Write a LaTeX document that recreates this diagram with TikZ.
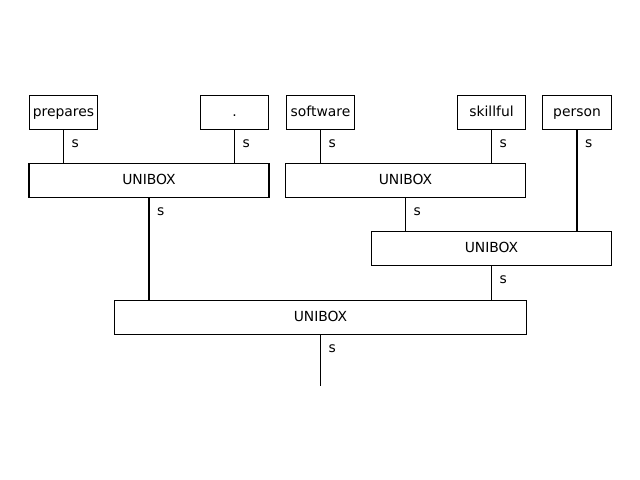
\documentclass[tikz,border=0pt]{standalone}
\usepackage{fontspec}
\setmainfont{DejaVu Sans}
\begin{document}
\begin{tikzpicture}[x=0.72pt,y=-0.72pt,
  box/.style={draw=black,line width=0.8pt,fill=white,inner sep=0pt,
              minimum height=24.48pt,text height=7.6pt,text depth=2.4pt,
              font=\fontsize{10pt}{12pt}\selectfont},
  leaf/.style={box,minimum width=49.37pt},
  unibox/.style={box,minimum width=172.8pt},
  widebox/.style={box,minimum width=296.23pt},
  link/.style={draw=black,line width=0.8pt},
  lbl/.style={anchor=west,inner sep=0pt,xshift=5.4pt,yshift=-9.86pt,
              font=\fontsize{10pt}{12pt}\selectfont}]
  \useasboundingbox (0,0) rectangle (640,480);

  % word leaves
  \node[leaf] (prepares) at (63.5,112.5) {prepares};
  \node[leaf] (dot)      at (234.5,112.5) {.};
  \node[leaf] (software) at (320.5,112.5) {software};
  \node[leaf] (skillful) at (491.5,112.5) {skillful};
  \node[leaf] (person)   at (577.0,112.5) {person};

  % combining boxes
  \node[unibox]  (u1) at (149.0,180.5) {UNIBOX};
  \node[unibox]  (u2) at (405.5,180.5) {UNIBOX};
  \node[unibox]  (u3) at (491.5,248.5) {UNIBOX};
  \node[widebox] (u4) at (320.5,317.5) {UNIBOX};
  \coordinate (root) at (320.5,385.7);

  % connectors with their labels
  \draw[link] (prepares.south) node[lbl] {s} -- (prepares.south |- u1.north);
  \draw[link] (dot.south)      node[lbl] {s} -- (dot.south |- u1.north);
  \draw[link] (software.south) node[lbl] {s} -- (software.south |- u2.north);
  \draw[link] (skillful.south) node[lbl] {s} -- (skillful.south |- u2.north);
  \draw[link] (person.south)   node[lbl] {s} -- (person.south |- u3.north);
  \draw[link] (u1.south)       node[lbl] {s} -- (u1.south |- u4.north);
  \draw[link] (u2.south)       node[lbl] {s} -- (u2.south |- u3.north);
  \draw[link] (u3.south)       node[lbl] {s} -- (u3.south |- u4.north);
  \draw[link] (u4.south)       node[lbl] {s} -- (root);
\end{tikzpicture}
\end{document}
